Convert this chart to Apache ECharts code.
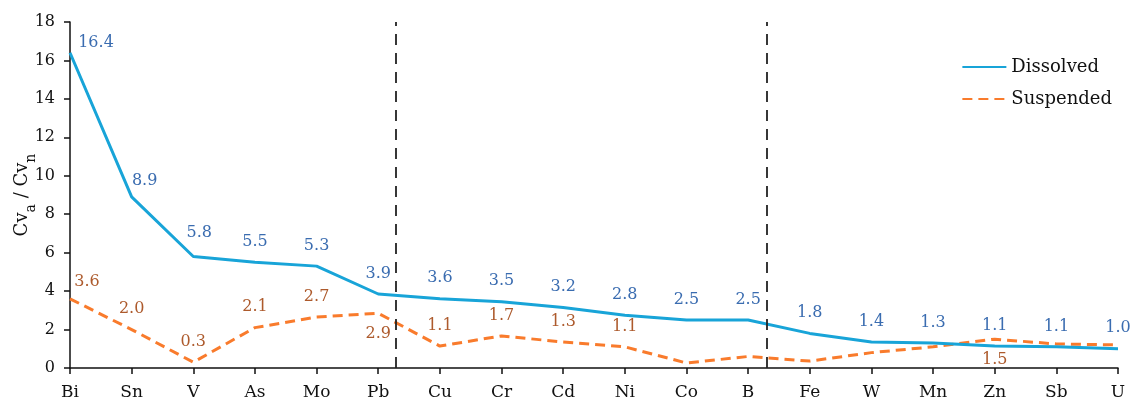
<!DOCTYPE html>
<html>
<head>
<meta charset="utf-8">
<script src="https://cdn.jsdelivr.net/npm/echarts@6/dist/echarts.min.js"></script>
<style>html,body{margin:0;padding:0;background:#fff;}#c{width:1132px;height:400px;}</style>
</head>
<body>
<div id="c"></div>
<script>
var categories = ['Bi','Sn','V','As','Mo','Pb','Cu','Cr','Cd','Ni','Co','B','Fe','W','Mn','Zn','Sb','U'];
var dissolved = [16.4, 8.9, 5.8, 5.5, 5.3, 3.85, 3.6, 3.45, 3.15, 2.75, 2.5, 2.5, 1.8, 1.35, 1.3, 1.15, 1.1, 1.0];
var dissolvedLabels = ['16.4','8.9','5.8','5.5','5.3','3.9','3.6','3.5','3.2','2.8','2.5','2.5','1.8','1.4','1.3','1.1','1.1','1.0'];
var suspended = [3.6, 2.0, 0.3, 2.1, 2.65, 2.85, 1.14, 1.67, 1.35, 1.1, 0.26, 0.6, 0.36, 0.8, 1.1, 1.5, 1.25, 1.2];
var suspendedLabels = ['3.6','2.0','0.3','2.1','2.7','2.9','1.1','1.7','1.3','1.1','','','','','','1.5','',''];
var dividers = [5.28, 11.3];

var FONT = 'DejaVu Serif';
var blueLabel = '#3a6cb0', brownLabel = '#ad5a2c';
var blueLine = '#18a4d8', orangeLine = '#f97b2c';

// label placement tweaks (style only)
var dOffsets = {0: [26, 11], 1: [13, 4], 2: [6, -3]};
var sOffsets = {0: [17, 4]};
var sBelow = {5: true, 15: true};

var dLabelData = dissolved.map(function (v, i) {
  return {value: v, label: {show: true, formatter: dissolvedLabels[i], offset: dOffsets[i] || [0, 0]}};
});
var sLabelData = suspended.map(function (v, i) {
  var o = {value: v, label: {show: false}};
  if (suspendedLabels[i]) {
    o.label = {show: true, formatter: suspendedLabels[i], position: sBelow[i] ? 'bottom' : 'top', offset: sOffsets[i] || [0, 0]};
  }
  return o;
});

function labelSeries(name, data, color) {
  return {
    name: name, type: 'line', data: data, symbol: 'circle', symbolSize: 1, showSymbol: true,
    silent: true, lineStyle: {width: 0, opacity: 0}, itemStyle: {color: 'rgba(0,0,0,0)'},
    label: {position: 'top', distance: 12, fontFamily: FONT, fontSize: 16, color: color},
    z: 5
  };
}

var chart = echarts.init(document.getElementById('c'), null, {renderer: 'canvas'});
chart.setOption({
  animation: false,
  backgroundColor: '#fff',
  textStyle: {fontFamily: FONT},
  grid: {left: 70, right: 14, top: 22, bottom: 32, containLabel: false, outerBoundsMode: 'none'},
  legend: {
    orient: 'vertical', right: 15, top: 53, itemGap: 14, itemWidth: 44, itemHeight: 14,
    itemStyle: {opacity: 0},
    textStyle: {fontFamily: FONT, fontSize: 18, color: '#111'},
    data: ['Dissolved', 'Suspended']
  },
  xAxis: [{
    type: 'category', data: categories, boundaryGap: false,
    axisLine: {lineStyle: {color: '#111', width: 1.5}},
    axisTick: {show: true, alignWithLabel: true, length: 6, lineStyle: {color: '#111', width: 1.5}},
    axisLabel: {fontFamily: FONT, fontSize: 17, color: '#111', margin: 16, interval: 0},
    splitLine: {show: false}
  }, {
    type: 'value', min: 0, max: 17, show: false
  }],
  yAxis: {
    type: 'value', min: 0, max: 18, interval: 2,
    name: '{m|Cv}{s|a}{m| / Cv}{s|n}', nameLocation: 'middle', nameGap: 39, nameRotate: 90,
    nameMoveOverlap: false,
    nameTextStyle: {rich: {m: {fontFamily: FONT, fontSize: 18, color: '#111'}, s: {fontFamily: FONT, fontSize: 14, color: '#111', verticalAlign: 'bottom', padding: [0, 0, -7, 0]}}},
    axisLine: {show: true, lineStyle: {color: '#111', width: 1.5}},
    axisTick: {show: true, length: 6, lineStyle: {color: '#111', width: 1.5}},
    axisLabel: {fontFamily: FONT, fontSize: 16, color: '#111', margin: 15},
    splitLine: {show: false}
  },
  series: [{
    name: 'Dissolved', type: 'line', data: dissolved, symbol: 'none',
    lineStyle: {color: blueLine, width: 3}, itemStyle: {color: blueLine},
    z: 3
  }, {
    name: 'Suspended', type: 'line', data: suspended, symbol: 'none',
    lineStyle: {color: orangeLine, width: 3, type: [10, 6]}, itemStyle: {color: orangeLine},
    z: 2
  },
  labelSeries('dLabels', dLabelData, blueLabel),
  labelSeries('sLabels', sLabelData, brownLabel),
  {
    name: 'div', type: 'line', xAxisIndex: 1, data: [], silent: true,
    markLine: {
      symbol: 'none', silent: true, label: {show: false},
      lineStyle: {color: '#222', width: 1.8, type: [11, 8]},
      data: dividers.map(function (d) { return {xAxis: d}; })
    }
  }]
});
</script>
</body>
</html>
